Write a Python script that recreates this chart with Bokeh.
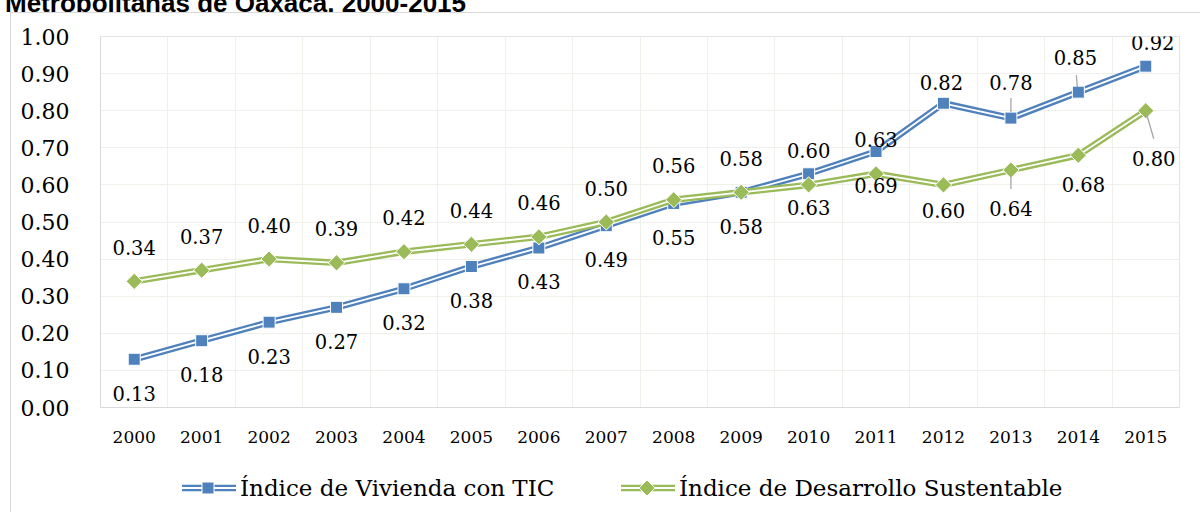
from bokeh.plotting import figure
from bokeh.models import ColumnDataSource, FixedTicker, NumeralTickFormatter, Div, Column
from bokeh.core.properties import value
from bokeh.embed import file_html
from bokeh.resources import INLINE
import math

# ---------------- data ----------------
years = list(range(2000, 2016))
tic = [0.13, 0.18, 0.23, 0.27, 0.32, 0.38, 0.43, 0.49, 0.55, 0.58, 0.63, 0.69, 0.82, 0.78, 0.85, 0.92]
sust = [0.34, 0.37, 0.40, 0.39, 0.42, 0.44, 0.46, 0.50, 0.56, 0.58, 0.60, 0.63, 0.60, 0.64, 0.68, 0.80]
y_ticks = [round(0.1 * i, 1) for i in range(11)]
series_names = ["Índice de Vivienda con TIC", "Índice de Desarrollo Sustentable"]
title_text = "Metropolitanas de Oaxaca, 2000-2015"

# label placement (screen px offsets, styling only)
tic_xo = [0] * 12 + [-2, 0, -3, 7]
tic_yo = [34] * 12 + [-21, -36, -35, -24]
sust_xo = [0] * 12 + [0, 0, 5, 8]
sust_yo = [-34] * 12 + [26, 38, 29, 48]

BLUE = "#4f81bd"
GREEN = "#9bbb59"
SERIF = "DejaVu Serif"
BOX = "#d9d9d9"

FRAME_W, FRAME_H = 1079, 371
p = figure(frame_width=FRAME_W, frame_height=FRAME_H, output_backend="svg", toolbar_location=None,
           x_range=(1999.5, 2015.5), y_range=(0, 1.0),
           min_border_left=100, min_border_right=21, min_border_top=24, min_border_bottom=60,
           margin=0)
p.background_fill_color = "white"
p.border_fill_alpha = 0
p.outline_line_color = "#e4e4e4"

# grid
p.ygrid.ticker = FixedTicker(ticks=y_ticks)
p.xgrid.ticker = FixedTicker(ticks=[y - 0.5 for y in years] + [years[-1] + 0.5])
p.grid.grid_line_color = "#f0f0ea"
p.grid.grid_line_width = 1

# axes
p.yaxis.ticker = FixedTicker(ticks=y_ticks)
p.yaxis.formatter = NumeralTickFormatter(format="0.00")
p.xaxis.ticker = FixedTicker(ticks=years)
p.xaxis.major_label_overrides = {y: str(y) for y in years}
for ax in (p.xaxis[0], p.yaxis[0]):
    ax.major_tick_line_color = None
    ax.minor_tick_line_color = None
    ax.axis_line_color = "#d9d9d9"
    ax.major_label_text_font = SERIF
    ax.major_label_text_color = "black"
p.yaxis.major_label_text_font_size = "22px"
p.yaxis.major_label_standoff = 25
p.xaxis.major_label_text_font_size = "17px"
p.xaxis.major_label_standoff = 17

# series
src_t = ColumnDataSource(dict(x=years, y=tic, lab=[f"{v:.2f}" for v in tic], xo=tic_xo, yo=tic_yo))
src_s = ColumnDataSource(dict(x=years, y=sust, lab=[f"{v:.2f}" for v in sust], xo=sust_xo, yo=sust_yo))

p.line("x", "y", source=src_t, line_color=BLUE, line_width=6.5)
p.line("x", "y", source=src_t, line_color="white", line_width=1.8)
p.scatter("x", "y", source=src_t, marker="square", size=12, fill_color=BLUE,
          line_color="white", line_width=1)
p.line("x", "y", source=src_s, line_color=GREEN, line_width=6.5)
p.line("x", "y", source=src_s, line_color="white", line_width=1.8)
p.scatter("x", "y", source=src_s, marker="square", size=11.5, angle=math.pi / 4,
          fill_color=GREEN, line_color="white", line_width=1)

# leader lines (pixel offsets from markers converted to data units)
px_x = 16.0 / FRAME_W
px_y = 1.0 / FRAME_H
leaders = [  # (series, index, dx0, dy0, dx1, dy1) in px, screen-down positive
    (tic, 13, 0, -20, 0, -6),
    (tic, 14, -2, -17, -1, -5),
    (sust, 13, 0, 7, 0, 19),
    (sust, 15, 1, 4, 8, 28),
]
p.segment(x0=[years[i] + a * px_x for s, i, a, b, c, d in leaders],
          y0=[s[i] - b * px_y for s, i, a, b, c, d in leaders],
          x1=[years[i] + c * px_x for s, i, a, b, c, d in leaders],
          y1=[s[i] - d * px_y for s, i, a, b, c, d in leaders],
          line_color="#a6a6a6", line_width=1.3)

# data labels
for src in (src_t, src_s):
    p.text("x", "y", text="lab", source=src, x_offset="xo", y_offset="yo",
           text_align="center", text_baseline="middle", text_font=value(SERIF),
           text_font_size="19.5px", text_color="black")

# title strip, cut off by the top edge as in the original
title_div = Div(
    text=(f"<div style=\"font-family:'Liberation Sans',Arial,sans-serif;font-weight:bold;"
          f"font-size:26px;line-height:26px;white-space:nowrap;margin:-22px 0 0 5px;color:black\">"
          f"{title_text}</div>"),
    width=1200, height=12, margin=0, styles={"overflow": "hidden"})


def legend_glyph(color, marker):
    if marker == "square":
        mk = f'<rect x="20" y="4" width="12" height="12" fill="{color}" stroke="white" stroke-width="1"/>'
    else:
        mk = f'<polygon points="26,2 34,10 26,18 18,10" fill="{color}" stroke="white" stroke-width="1"/>'
    return (f'<svg width="54" height="20" style="position:absolute;top:11px;left:{{L}}px">'
            f'<line x1="0" y1="10" x2="54" y2="10" stroke="{color}" stroke-width="6.5"/>'
            f'<line x1="0" y1="10" x2="54" y2="10" stroke="white" stroke-width="1.8"/>'
            f'{mk}</svg>')


legend_html = (
    "<div style=\"position:relative;width:1200px;height:45px;font-family:'DejaVu Serif',serif;"
    "font-size:23px;line-height:42px;color:black;white-space:nowrap\">"
    + legend_glyph(BLUE, "square").replace("{L}", "182")
    + f'<span style="position:absolute;left:240px;top:0">{series_names[0]}</span>'
    + legend_glyph(GREEN, "diamond").replace("{L}", "621")
    + f'<span style="position:absolute;left:679px;top:0">{series_names[1]}</span>'
    + "</div>")
legend_div = Div(text=legend_html, width=1200, height=45, margin=0)

layout = Column(children=[title_div, p, legend_div], spacing=0, margin=0,
                styles={"background": (f"linear-gradient({BOX},{BOX}) 10px 12px / 100% 1px no-repeat, "
                                       f"linear-gradient({BOX},{BOX}) 10px 12px / 1px 100% no-repeat, white")})

open("out.html", "w").write(file_html(layout, INLINE))
